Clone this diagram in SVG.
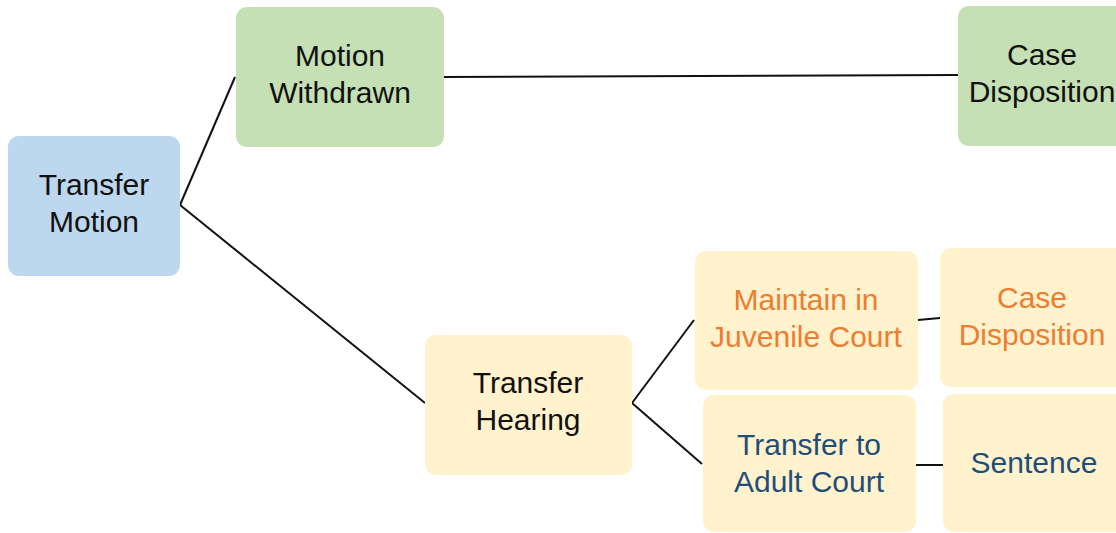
<svg xmlns="http://www.w3.org/2000/svg" width="1116" height="533" viewBox="0 0 1116 533">
<style>
.box{stroke:none}
.blue{fill:#BDD7EE}
.green{fill:#C5E0B4}
.yellow{fill:#FFF2CC}
text{font-family:"Liberation Sans",Arial,sans-serif;font-size:30px;text-anchor:middle;fill:#111}
.orange{fill:#ED7D31}
.navy{fill:#1F4E79}
.conn line{stroke:#111;stroke-width:2;fill:none}
</style>
<rect width="1116" height="533" fill="#fff"/>
<g id="connectors" class="conn">
<line x1="180" y1="205" x2="235" y2="77"/>
<line x1="180" y1="205" x2="425" y2="403"/>
<line x1="443" y1="77" x2="958" y2="75"/>
<line x1="632" y1="403" x2="694" y2="320"/>
<line x1="632" y1="403" x2="702" y2="464"/>
<line x1="918" y1="320" x2="940" y2="318"/>
<line x1="916" y1="465" x2="943" y2="465"/>
</g>
<g id="transfer-motion">
<rect class="box blue" x="8" y="136" width="172" height="140" rx="11"/>
<text x="94" y="195">Transfer</text>
<text x="94" y="232">Motion</text>
</g>
<g id="motion-withdrawn">
<rect class="box green" x="236" y="7" width="208" height="140" rx="11"/>
<text x="340" y="66">Motion</text>
<text x="340" y="103">Withdrawn</text>
</g>
<g id="case-disposition-1">
<rect class="box green" x="958" y="6" width="180" height="140" rx="11"/>
<text x="1042" y="65">Case</text>
<text x="1042" y="102">Disposition</text>
</g>
<g id="transfer-hearing">
<rect class="box yellow" x="425" y="335" width="207" height="140" rx="11"/>
<text x="528" y="393">Transfer</text>
<text x="528" y="430">Hearing</text>
</g>
<g id="maintain-juvenile">
<rect class="box yellow" x="695" y="251" width="223" height="139" rx="11"/>
<text class="orange" x="806" y="310">Maintain in</text>
<text class="orange" x="806" y="347">Juvenile Court</text>
</g>
<g id="case-disposition-2">
<rect class="box yellow" x="940" y="248" width="190" height="139" rx="11"/>
<text class="orange" x="1032" y="308">Case</text>
<text class="orange" x="1032" y="345">Disposition</text>
</g>
<g id="transfer-adult">
<rect class="box yellow" x="703" y="395" width="213" height="137" rx="11"/>
<text class="navy" x="809" y="455">Transfer to</text>
<text class="navy" x="809" y="492">Adult Court</text>
</g>
<g id="sentence">
<rect class="box yellow" x="943" y="394" width="190" height="138" rx="11"/>
<text class="navy" x="1034" y="473">Sentence</text>
</g>
</svg>
